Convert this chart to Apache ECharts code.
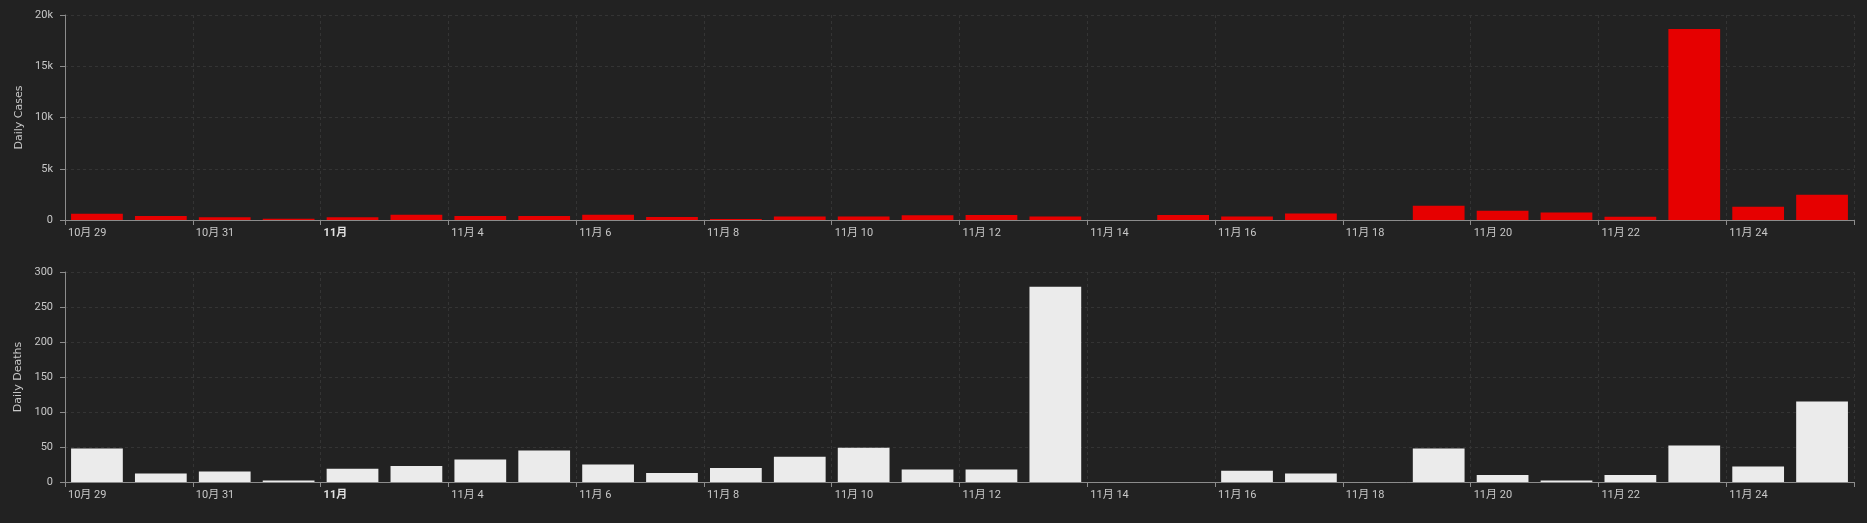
<!DOCTYPE html>
<html>
<head>
<meta charset="utf-8">
<script src="https://cdn.jsdelivr.net/npm/echarts@6/dist/echarts.min.js"></script>
<style>
html,body{margin:0;padding:0;background:#222222;}
#chart{width:1867px;height:523px;}
</style>
</head>
<body>
<div id="chart"></div>
<script>
const categories = ['10-29','10-30','10-31','11-01','11-02','11-03','11-04','11-05','11-06','11-07',
  '11-08','11-09','11-10','11-11','11-12','11-13','11-14','11-15','11-16','11-17',
  '11-18','11-19','11-20','11-21','11-22','11-23','11-24','11-25'];
const tickLabels = ['10月 29','10月 31','11月','11月 4','11月 6','11月 8','11月 10','11月 12',
  '11月 14','11月 16','11月 18','11月 20','11月 22','11月 24'];
const boldLabels = ['11月'];
const dailyCases = [610,390,260,130,260,520,390,390,520,290,
  100,330,330,460,490,330,0,490,330,640,
  0,1400,910,720,320,18640,1300,2470];
const dailyDeaths = [48,12,15,2,19,23,32,45,25,13,
  20,36,49,18,18,279,0,0,16,12,
  0,48,10,2,10,52,22,115];
const casesTicks = [0,5000,10000,15000,20000];
const deathsTicks = [0,50,100,150,200,250,300];

const labelColor = '#c8c8c8';
const axisColor = '#8c8c8c';
const gridColor = '#343434';
const tickFont = 'Roboto, "Noto Sans CJK SC", sans-serif';

function catAxis(gi){
  return {
    type:'category', gridIndex:gi, data:categories, boundaryGap:true, position:'bottom',
    axisLine:{show:true,lineStyle:{color:axisColor}},
    axisTick:{show:true,interval:1,length:5,lineStyle:{color:axisColor}},
    axisLabel:{show:false},
    splitLine:{show:true,interval:1,lineStyle:{color:gridColor,type:[3,3]}}
  };
}
function labelAxis(gi){
  return {
    type:'value', gridIndex:gi, min:0, max:categories.length, interval:2, position:'bottom',
    axisLine:{show:false}, axisTick:{show:false}, splitLine:{show:false},
    axisLabel:{
      show:true, align:'left', padding:[0,0,0,3], margin:8,
      color:labelColor, fontSize:11, fontFamily:tickFont,
      formatter:function(v){
        const i = Math.round(v/2);
        const t = tickLabels[i];
        if (t === undefined) return '';
        return boldLabels.indexOf(t) >= 0 ? '{b|'+t+'}' : t;
      },
      rich:{b:{fontWeight:'bold',color:'#e0e0e0',fontSize:11,fontFamily:tickFont}}
    }
  };
}
function valAxis(gi, ticks, name){
  return {
    type:'value', gridIndex:gi, min:ticks[0], max:ticks[ticks.length-1], interval:ticks[1]-ticks[0],
    name:name, nameLocation:'middle', nameGap:39,
    nameTextStyle:{color:labelColor,fontSize:11,fontFamily:'"DejaVu Sans", sans-serif'},
    axisLine:{show:true,onZero:false,lineStyle:{color:axisColor}},
    axisTick:{show:true,length:5,lineStyle:{color:axisColor}},
    axisLabel:{color:labelColor,fontSize:11,fontFamily:tickFont,margin:12,
      formatter:function(v){ return v>=1000 ? (v/1000)+'k' : String(v); }},
    splitLine:{show:true,lineStyle:{color:gridColor,type:[3,3]}}
  };
}

const chart = echarts.init(document.getElementById('chart'), null, {renderer:'canvas'});
chart.setOption({
  backgroundColor:'#222222',
  animation:false,
  grid:[
    {left:65, right:13, top:15, height:205},
    {left:65, right:13, top:272, height:210}
  ],
  xAxis:[catAxis(0), labelAxis(0), catAxis(1), labelAxis(1)],
  yAxis:[valAxis(0, casesTicks, 'Daily Cases'), valAxis(1, deathsTicks, 'Daily Deaths')],
  series:[
    {type:'bar', xAxisIndex:0, yAxisIndex:0, data:dailyCases, barCategoryGap:'19%',
     itemStyle:{color:'#e60000'}},
    {type:'bar', xAxisIndex:2, yAxisIndex:1, data:dailyDeaths, barCategoryGap:'19%',
     itemStyle:{color:'#ebebeb'}}
  ]
});
</script>
</body>
</html>
